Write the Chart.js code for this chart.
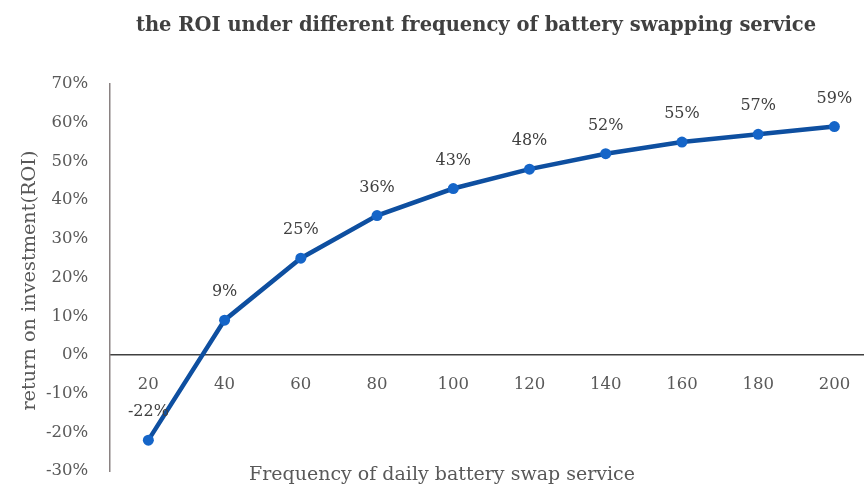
<!DOCTYPE html>
<html>
<head>
<meta charset="utf-8">
<script src="https://cdn.jsdelivr.net/npm/chart.js@4/dist/chart.umd.min.js"></script>
<style>
  html, body { margin: 0; padding: 0; background: #fff; overflow: hidden; }
  #wrap { width: 878px; height: 503px; }
</style>
</head>
<body>
<div id="wrap"><canvas id="roiChart" width="878" height="503"></canvas></div>
<script>
// daily swap frequency and ROI (%)
const frequencies = ["20", "40", "60", "80", "100", "120", "140", "160", "180", "200"];
const roiValues = [-22, 9, 25, 36, 43, 48, 52, 55, 57, 59];
const yTicks = [-30, -20, -10, 0, 10, 20, 30, 40, 50, 60, 70];

const chartTitle = "the ROI under different frequency of battery swapping service";
const xTitle = "Frequency of daily battery swap service";
const yTitle = "return on investment(ROI)";

const serif = "'DejaVu Serif', 'Liberation Serif', serif";

// titles + point labels, drawn by hand
const textPlugin = {
  id: "textPlugin",
  afterDatasetsDraw(chart) {
    const ctx = chart.ctx;
    const area = chart.chartArea;
    ctx.save();
    ctx.textAlign = "center";
    ctx.textBaseline = "middle";

    ctx.fillStyle = "#404040";
    ctx.font = "bold 19.5px " + serif;
    ctx.fillText(chartTitle, 476, 26);

    ctx.fillStyle = "#595959";
    ctx.font = "19px " + serif;
    ctx.fillText(xTitle, 442, 475);

    ctx.save();
    ctx.translate(30, (area.top + area.bottom) / 2 + 3);
    ctx.rotate(-Math.PI / 2);
    ctx.font = "19.3px " + serif;
    ctx.fillText(yTitle, 0, 0);
    ctx.restore();

    ctx.fillStyle = "#404040";
    ctx.font = "16px " + serif;
    const meta = chart.getDatasetMeta(0);
    meta.data.forEach((pt, i) => {
      ctx.fillText(roiValues[i] + "%", pt.x, pt.y - 28);
    });
    ctx.restore();
  },
};

new Chart("roiChart", {
  type: "line",
  data: {
    labels: frequencies,
    datasets: [
      {
        data: roiValues,
        borderColor: "#0E4FA0",
        borderWidth: 4.5,
        backgroundColor: "#1565C8",
        pointBackgroundColor: "#1565C8",
        pointBorderColor: "#1565C8",
        pointRadius: 5.5,
        pointBorderWidth: 0,
        tension: 0,
        fill: false,
      },
    ],
  },
  options: {
    responsive: false,
    animation: false,
    layout: { padding: { top: 84, left: 24, right: 1, bottom: 3 } },
    plugins: {
      legend: { display: false },
      title: { display: false },
      tooltip: { enabled: false },
    },
    scales: {
      x: {
        type: "category",
        offset: true,
        position: { y: 0 },
        grid: { display: false, drawTicks: false },
        border: { display: true, color: "#404040", width: 1.5 },
        ticks: {
          color: "#595959",
          font: { family: serif, size: 16.5 },
          padding: 20,
          maxRotation: 0,
        },
      },
      y: {
        min: -30,
        max: 70,
        afterBuildTicks: (scale) => {
          scale.ticks = yTicks.map((v) => ({ value: v }));
        },
        grid: { display: false, drawTicks: false },
        border: { display: true, color: "#8A8282", width: 1.5 },
        ticks: {
          color: "#595959",
          font: { family: serif, size: 16.5 },
          padding: 22,
          callback: (v) => v + "%",
        },
      },
    },
  },
  plugins: [textPlugin],
});
</script>
</body>
</html>
